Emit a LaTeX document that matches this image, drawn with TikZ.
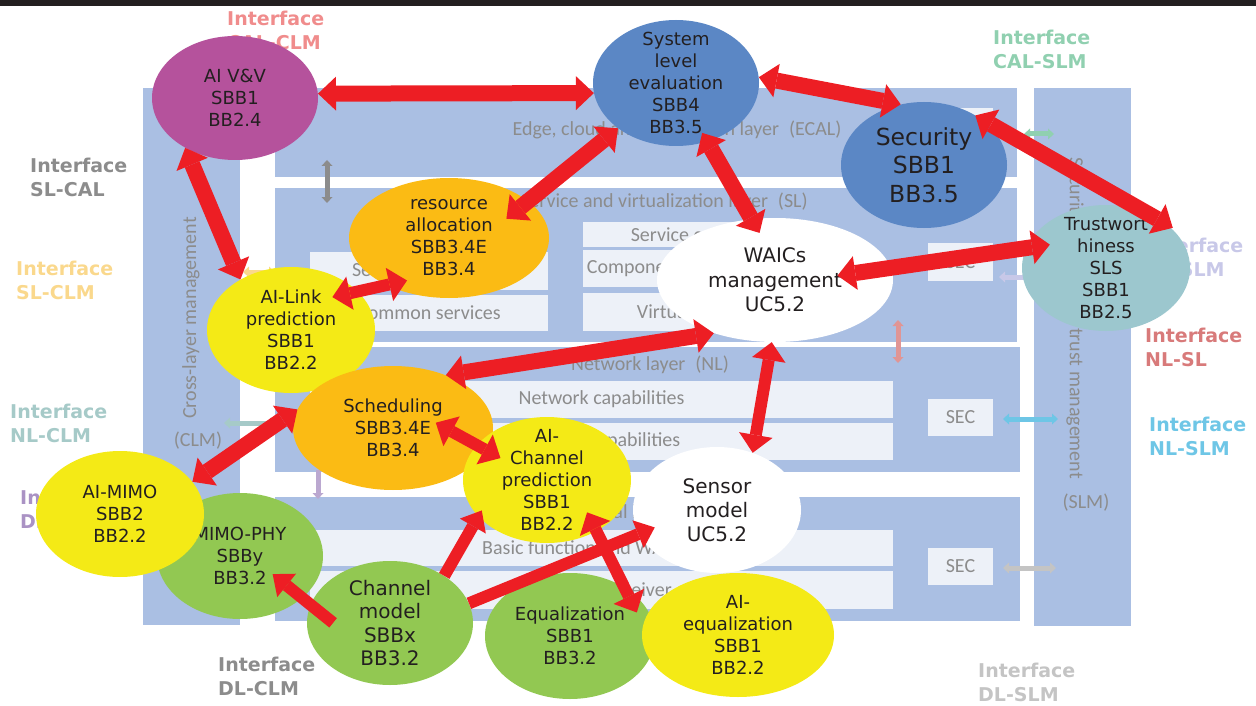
\documentclass[tikz,border=0pt]{standalone}
\usepackage{fontspec}
\usepackage{tikz}
\usetikzlibrary{arrows.meta,shapes.geometric}
\newfontfamily\bubfam{DejaVu Sans}
\newfontfamily\layfam{Carlito}
\definecolor{topbar}{RGB}{35,31,32}
\definecolor{layerblue}{RGB}{170,191,227}
\definecolor{boxwhite}{RGB}{237,241,248}
\definecolor{laygray}{RGB}{140,140,140}
\definecolor{linkred}{RGB}{237,30,36}
\definecolor{bubtext}{RGB}{35,31,32}
\definecolor{vvpurple}{RGB}{181,82,156}
\definecolor{evalblue}{RGB}{91,135,197}
\definecolor{algoorange}{RGB}{251,187,20}
\definecolor{aiyellow}{RGB}{244,234,22}
\definecolor{phygreen}{RGB}{146,200,82}
\definecolor{trustteal}{RGB}{156,199,206}
\definecolor{ifcalclm}{RGB}{240,140,140}
\definecolor{ifslcal}{RGB}{140,140,140}
\definecolor{ifslclm}{RGB}{250,216,140}
\definecolor{ifnlclm}{RGB}{166,202,200}
\definecolor{ifdlclm}{RGB}{170,146,196}
\definecolor{ifcalslm}{RGB}{144,208,176}
\definecolor{ifslslm}{RGB}{200,200,232}
\definecolor{ifnlsl}{RGB}{216,122,122}
\definecolor{ifnlslm}{RGB}{110,198,230}
\definecolor{ifdlslm}{RGB}{196,196,196}

\begin{document}
\begin{tikzpicture}[x=1pt, y=-1pt,
  bub/.style={ellipse, inner xsep=0pt, inner ysep=-40pt, align=center, text=bubtext, font=\bubfam\fontsize{18}{22}\selectfont},
  iface/.style={anchor=north west, inner sep=0pt, align=left, font=\bubfam\bfseries\fontsize{19}{24}\selectfont},
  inbox/.style={fill=boxwhite, inner sep=0pt, text=laygray, font=\layfam\fontsize{20}{24}\selectfont},
  laytext/.style={text=laygray, inner sep=0pt, font=\layfam\fontsize{20}{24}\selectfont},
  redlink/.style={draw=linkred, line width=16pt, {Triangle[length=18pt,width=34pt,line width=0pt]}-{Triangle[length=18pt,width=34pt,line width=0pt]}},
  thinlink/.style={redlink, line width=12pt},
  oneway/.style={draw=linkred, line width=12pt, -{Triangle[length=18pt,width=30pt,line width=0pt]}},
  faint/.style={line width=5pt, {Triangle[length=6pt,width=11pt,line width=0pt]}-{Triangle[length=6pt,width=11pt,line width=0pt]}},
  faintone/.style={line width=5pt, -{Triangle[length=6pt,width=11pt,line width=0pt]}}]
  \useasboundingbox (0,0) rectangle (1256,706);
  \fill[topbar] (0,0) rectangle (1256,6);

  \fill[layerblue] (143,88) rectangle (240,625);
  \fill[layerblue] (1034,88) rectangle (1131,626);
  \fill[layerblue] (275,88) rectangle (1017,177);
  \fill[layerblue] (275,188) rectangle (1017,342);
  \fill[layerblue] (275,347) rectangle (1020,472);
  \fill[layerblue] (275,497) rectangle (1020,621);

  \node[laytext] (ecalname) at (677,130) {Edge, cloud and application layer\enspace(ECAL)};
  \node[inbox, minimum width=65pt, minimum height=38pt] (ecalsec) at (960.5,127) {SEC};
  \node[laytext] (slname) at (664,202) {Service and virtualization layer\enspace(SL)};
  \node[inbox, minimum width=238pt, minimum height=38pt] (slsvc) at (429,271) {Service capabilities};
  \node[inbox, minimum width=238pt, minimum height=36pt] (slcommon) at (429,313) {Common services};
  \node[inbox, minimum width=217pt, minimum height=25pt] (slcontrol) at (691,234.5) {Service control};
  \node[inbox, minimum width=217pt, minimum height=37pt] (slcomp) at (691,268.5) {Component management};
  \node[inbox, minimum width=217pt, minimum height=38pt] (slvirt) at (691,312) {Virtualization};
  \node[inbox, minimum width=65pt, minimum height=38pt] (slsec) at (960.5,262) {SEC};
  \node[laytext] (nlname) at (650,365) {Network layer\enspace(NL)};
  \node[inbox, minimum width=583pt, minimum height=37pt] (nlnet) at (601.5,399.5) {Network capabilities};
  \node[inbox, minimum width=583pt, minimum height=37pt] (nlsense) at (601.5,441.5) {Sensing capabilities};
  \node[inbox, minimum width=65pt, minimum height=37pt] (nlsec) at (960.5,417.5) {SEC};
  \node[laytext] (dlname) at (639,513) {Physical layer\enspace(DL)};
  \node[inbox, minimum width=583pt, minimum height=36pt] (dlbasic) at (601.5,548) {Basic function and WAICs link};
  \node[inbox, minimum width=583pt, minimum height=38pt] (dlradio) at (601.5,590) {Radio transceiver};
  \node[inbox, minimum width=65pt, minimum height=37pt] (dlsec) at (960.5,566.5) {SEC};
  \node[laytext, rotate=90] (clmname) at (191,318) {Cross-layer management};
  \node[laytext] (clmtag) at (198,441) {(CLM)};
  \node[laytext, rotate=-90] (slmname) at (1075,318) {Security, privacy and trust management};
  \node[laytext] (slmtag) at (1086,503) {(SLM)};

  \draw[faint, draw=laygray] (327,160) -- (327,203);
  \draw[faint, draw=ifnlsl!80] (898,320) -- (898,363);
  \draw[faint, draw=ifnlclm] (224,423) -- (276,423);
  \draw[faint, draw=ifslclm] (243,272) -- (275,272);
  \draw[faintone, draw=ifdlclm!80] (318,470) -- (318,499);
  \draw[faintone, draw=ifslslm] (1030,277) -- (999,277);
  \draw[faint, draw=ifnlslm] (1003,419) -- (1058,419);
  \draw[faint, draw=ifdlslm] (1003,568) -- (1056,568);
  \draw[faint, draw=ifcalslm] (1024,134) -- (1054,134);

  \node[iface, text=ifcalclm] (calclm) at (227,11) {Interface\\CAL-CLM};
  \node[iface, text=ifslcal] (slcal) at (30,158) {Interface\\SL-CAL};
  \node[iface, text=ifslclm] (slclm) at (16,261) {Interface\\SL-CLM};
  \node[iface, text=ifnlclm] (nlclm) at (10,404) {Interface\\NL-CLM};
  \node[iface, text=ifdlclm] (dlclm) at (20,490) {Interface\\DL-CLM};
  \node[iface, text=ifslcal] (dlclmb) at (218,657) {Interface\\DL-CLM};
  \node[iface, text=ifcalslm] (calslm) at (993,30) {Interface\\CAL-SLM};
  \node[iface, text=ifslslm] (slslm) at (1146,238) {Interface\\SL-SLM};
  \node[iface, text=ifnlsl] (nlsl) at (1145,328) {Interface\\NL-SL};
  \node[iface, text=ifnlslm] (nlslm) at (1149,417) {Interface\\NL-SLM};
  \node[iface, text=ifdlslm] (dlslm) at (978,663) {Interface\\DL-SLM};

  \node[bub, fill=vvpurple, minimum width=166pt, minimum height=124pt] (vv) at (235,98) {AI V\&V\\SBB1\\BB2.4};
  \node[bub, fill=evalblue, minimum width=166pt, minimum height=126pt] (sle) at (676,83) {System\\level\\evaluation\\SBB4\\BB3.5};
  \node[bub, fill=evalblue, minimum width=166pt, minimum height=126pt, font=\bubfam\fontsize{23.5}{28.5}\selectfont] (sec) at (924,165) {Security\\SBB1\\BB3.5};
  \node[bub, fill=algoorange, minimum width=200pt, minimum height=120pt] (ra) at (449,238) {resource\\allocation\\SBB3.4E\\BB3.4};
  \node[bub, fill=white, minimum width=236pt, minimum height=124pt, font=\bubfam\fontsize{20}{24.5}\selectfont] (waics) at (775,280) {WAICs\\management\\UC5.2};
  \node[bub, fill=trustteal, minimum width=168pt, minimum height=126pt] (tw) at (1106,268) {Trustwort\\hiness\\SLS\\SBB1\\BB2.5};
  \node[bub, fill=aiyellow, minimum width=168pt, minimum height=126pt] (al) at (291,330) {AI-Link\\prediction\\SBB1\\BB2.2};
  \node[bub, fill=algoorange, minimum width=200pt, minimum height=124pt] (sched) at (393,428) {Scheduling\\SBB3.4E\\BB3.4};
  \node[bub, fill=aiyellow, minimum width=168pt, minimum height=126pt] (aichan) at (547,480) {AI-\\Channel\\prediction\\SBB1\\BB2.2};
  \node[bub, fill=white, minimum width=168pt, minimum height=126pt, font=\bubfam\fontsize{20}{24}\selectfont] (sensor) at (717,510) {Sensor\\model\\UC5.2};
  \node[bub, fill=phygreen, minimum width=166pt, minimum height=126pt] (mimo) at (240,556) {MIMO-PHY\\SBBy\\BB3.2};
  \node[bub, fill=aiyellow, minimum width=168pt, minimum height=126pt] (aimimo) at (120,514) {AI-MIMO\\SBB2\\BB2.2};
  \node[bub, fill=phygreen, minimum width=166pt, minimum height=124pt, font=\bubfam\fontsize{20}{23.5}\selectfont] (chmod) at (390,623) {Channel\\model\\SBBx\\BB3.2};
  \node[bub, fill=phygreen, minimum width=170pt, minimum height=126pt] (eq) at (570,636) {Equalization\\SBB1\\BB3.2};
  \node[bub, fill=aiyellow, minimum width=192pt, minimum height=124pt] (aieq) at (738,635) {AI-\\equalization\\SBB1\\BB2.2};

  \draw[redlink] (vv.3) -- (sle.187);
  \draw[redlink] (sle.4) -- (sec.111);
  \draw[redlink, shorten <=-4pt, shorten >=-6pt] (sec.41) -- (tw.35);
  \draw[redlink, shorten >=-28pt] (sle.218) -- (ra.25);
  \draw[redlink, shorten <=-10pt, shorten >=-16pt] (sle.298) -- (waics.111);
  \draw[redlink] (vv.225) -- (al.135);
  \draw[thinlink, shorten <=-26pt, shorten >=-21pt] (al.30) -- (ra.217);
  \draw[redlink, shorten <=-24pt, shorten >=-54pt] (tw.166) -- (waics.6);
  \draw[redlink] (waics.221) -- (sched.45);
  \draw[thinlink] (waics.267) -- (sensor.58);
  \draw[redlink] (sched.169) -- (aimimo.24);
  \draw[thinlink, shorten <=103pt, shorten >=128pt] (sched.131) -- (aichan.329);
  \draw[oneway, shorten <=-29pt, shorten >=-38pt] (chmod.167) -- (mimo.326);
  \draw[oneway, shorten >=-7pt] (chmod.41) -- (aichan.208);
  \draw[oneway, shorten >=-17pt] (chmod.14) -- (sensor.197);
  \draw[thinlink, shorten <=-21pt, shorten >=14pt] (aichan.314) -- (aieq.174);
\end{tikzpicture}
\end{document}
